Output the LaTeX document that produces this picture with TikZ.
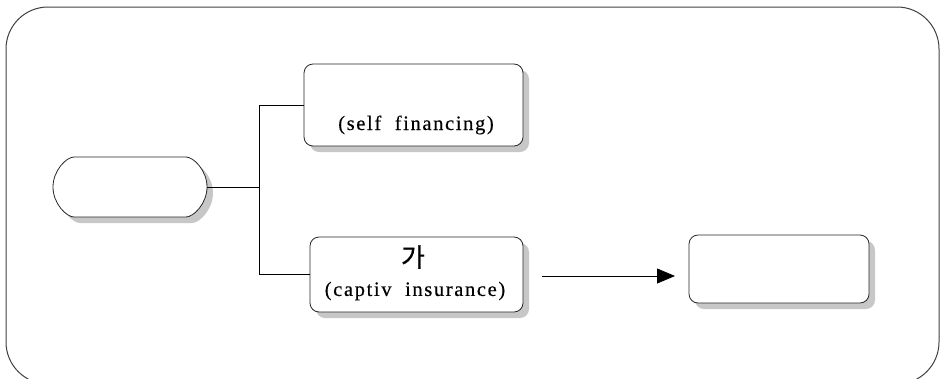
\documentclass[tikz,border=0pt]{standalone}
\usepackage{fontspec}
\setmainfont{Liberation Serif}
\newfontfamily\kofont[FakeBold=0.6]{Noto Sans CJK KR}
\usetikzlibrary{shadows,arrows.meta,shapes.misc}
\begin{document}
\begin{tikzpicture}[x=1pt,y=-1pt,
  box/.style={draw=black!85,line width=0.8pt,fill=white,rounded corners=9pt,
    drop shadow={shadow xshift=6pt,shadow yshift=-6pt,fill=black!22,opacity=1},inner sep=0pt},
  lbl/.style={font=\fontsize{20.5}{22}\selectfont\addfontfeatures{LetterSpace=8,FakeBold=0.4},inner sep=0pt},
  conn/.style={draw=black,line width=0.8pt}]
\useasboundingbox (0,0) rectangle (941,378);
\begin{scope}
\clip (0,0) rectangle (941,378);
\draw[black!75,line width=1pt,rounded corners=42pt] (6,7) rectangle (939,384);
\end{scope}
\node[box,rounded rectangle,minimum width=154pt,minimum height=60pt] (o) at (130,187) {};
\node[box,minimum width=219pt,minimum height=82pt] (t) at (413.5,105) {};
\node[box,minimum width=213pt,minimum height=75pt] (b) at (416.5,274.5) {};
\node[box,minimum width=180pt,minimum height=68pt] (r) at (779,269) {};
\node[lbl] (tl) at (416,125) {(self \ financing)};
\node[inner sep=0pt,font=\kofont\fontsize{26}{28}\selectfont] (kg) at (413,257) {가};
\node[lbl] (bl) at (415,291) {(captiv \ insurance)};
\coordinate (j) at (259,187);
\draw[conn] (o.east) -- (j);
\draw[conn] (j) |- (t.west);
\draw[conn] (j) |- (b.west);
\coordinate (a1) at (542,276);
\coordinate (a2) at (675,276);
\draw[conn,-{Triangle[length=18pt,width=15pt]}] (a1) -- (a2);
\end{tikzpicture}
\end{document}
